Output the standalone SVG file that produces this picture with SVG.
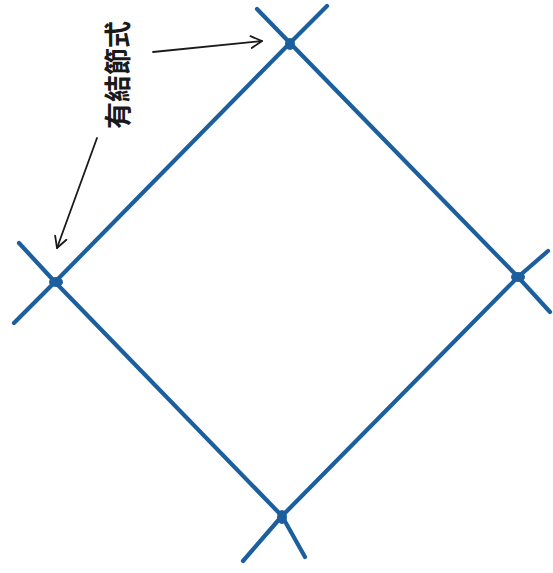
<svg xmlns="http://www.w3.org/2000/svg" width="553" height="573" viewBox="0 0 553 573">
<defs>
<style>
.edge{stroke:#1b5f9e;stroke-width:4.2;stroke-linecap:round;stroke-linejoin:round;fill:none}
.knot{fill:#1b5f9e}
.lbl{stroke:#1a1a1a;stroke-width:1.8;fill:none;stroke-linecap:round}
.t{font-family:"Noto Sans CJK TC","Noto Sans CJK JP",sans-serif;font-size:27px;font-weight:bold;fill:#1a1a1a}
</style>
<marker id="ah" markerWidth="14" markerHeight="14" refX="12" refY="7" orient="auto" markerUnits="userSpaceOnUse">
<path d="M1,1 L12,7 L1,13" fill="none" stroke="#1a1a1a" stroke-width="1.8" stroke-linecap="round" stroke-linejoin="round"/>
</marker>
</defs>
<rect width="553" height="573" fill="#ffffff"/>
<g id="connectors">
<polyline class="edge" points="327,6 290,43 55,282 14,323"/>
<polyline class="edge" points="257,9 290,43 518,277 550,312"/>
<polyline class="edge" points="548,251 518,277 282,516 243,561"/>
<polyline class="edge" points="19,243 55,282 282,516 305,557"/>
<line class="lbl" x1="153" y1="52" x2="262" y2="41" marker-end="url(#ah)"/>
<line class="lbl" x1="97" y1="138" x2="57" y2="248" marker-end="url(#ah)"/>
</g>
<g id="node-top"><ellipse class="knot" cx="290" cy="44" rx="5" ry="6"/></g>
<g id="node-left"><ellipse class="knot" cx="56" cy="282" rx="7" ry="5"/></g>
<g id="node-right"><ellipse class="knot" cx="518" cy="277" rx="7" ry="5"/></g>
<g id="node-bottom"><ellipse class="knot" cx="282" cy="517" rx="5" ry="7"/></g>
<g id="label"><text class="t" transform="translate(128,75) rotate(-90)" text-anchor="middle">有結節式</text></g>
</svg>
